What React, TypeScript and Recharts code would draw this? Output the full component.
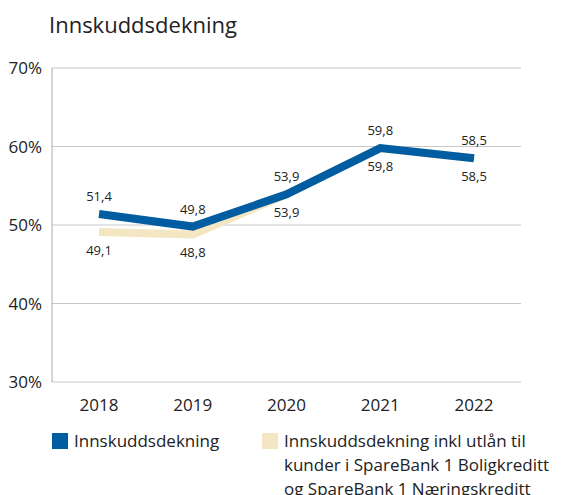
import { LineChart, Line, XAxis, YAxis, CartesianGrid, LabelList } from "recharts";

const years = ["2018", "2019", "2020", "2021", "2022"];
const dekning = [51.4, 49.8, 53.9, 59.8, 58.5];
const dekningInkl = [49.1, 48.8, 53.9, 59.8, 58.5];
const yTicks = [30, 40, 50, 60, 70];

const data = years.map((year, i) => ({
  year,
  dekning: dekning[i],
  inkl: dekningInkl[i],
}));

const BLUE = "#005da2";
const BEIGE = "#f4e6c2";
const FONT = "'Open Sans', sans-serif";

const fmt = (v: number) => v.toFixed(1).replace(".", ",");

function makeLabel(dy: number) {
  return (props: any) => {
    const { x, y, value } = props;
    return (
      <text x={x} y={y + dy} textAnchor="middle" dominantBaseline="central" fontSize={13} fill="#222" fontFamily={FONT}>
        {fmt(value)}
      </text>
    );
  };
}

export default function App() {
  return (
    <div style={{ position: "absolute", left: 0, top: 0, width: 579, height: 495, background: "#fff", fontFamily: FONT, color: "#222" }}>
      <div style={{ position: "absolute", left: 49, top: 9, fontSize: 22, fontWeight: 500 }}>Innskuddsdekning</div>
      <LineChart width={579} height={420} data={data} margin={{ top: 68, right: 58, left: 0, bottom: 8 }}>
        <CartesianGrid vertical={false} stroke="#c8c8c8" />
        <XAxis
          dataKey="year"
          height={30}
          axisLine={false}
          tickLine={false}
          padding={{ left: 47, right: 47 }}
          tick={{ fontSize: 17, fill: "#222", fontFamily: FONT }}
          dy={9}
        />
        <YAxis
          width={52}
          domain={[30, 70]}
          ticks={yTicks}
          axisLine={{ stroke: "#aaa" }}
          tickLine={false}
          tickFormatter={(v: number) => `${v}%`}
          tick={{ fontSize: 17, fill: "#222", fontFamily: FONT }}
          dx={-2}
        />
        <Line dataKey="inkl" stroke={BEIGE} strokeWidth={8} dot={false} isAnimationActive={false}>
          <LabelList dataKey="inkl" content={makeLabel(18)} />
        </Line>
        <Line dataKey="dekning" stroke={BLUE} strokeWidth={8} dot={false} isAnimationActive={false}>
          <LabelList dataKey="dekning" content={makeLabel(-18)} />
        </Line>
      </LineChart>
      <div style={{ position: "absolute", left: 52, top: 429, display: "flex", alignItems: "center", fontSize: 17, lineHeight: "24px" }}>
        <span style={{ width: 16, height: 16, background: BLUE, display: "inline-block", marginRight: 6 }} />
        Innskuddsdekning
      </div>
      <div style={{ position: "absolute", left: 262, top: 429, fontSize: 17, lineHeight: "24px" }}>
        <span style={{ position: "absolute", left: 0, top: 4, width: 16, height: 16, background: BEIGE }} />
        <div style={{ marginLeft: 22, width: 300 }}>
          Innskuddsdekning inkl utlån til
          <br />
          kunder i SpareBank 1 Boligkreditt
          <br />
          og SpareBank 1 Næringskreditt
        </div>
      </div>
    </div>
  );
}
